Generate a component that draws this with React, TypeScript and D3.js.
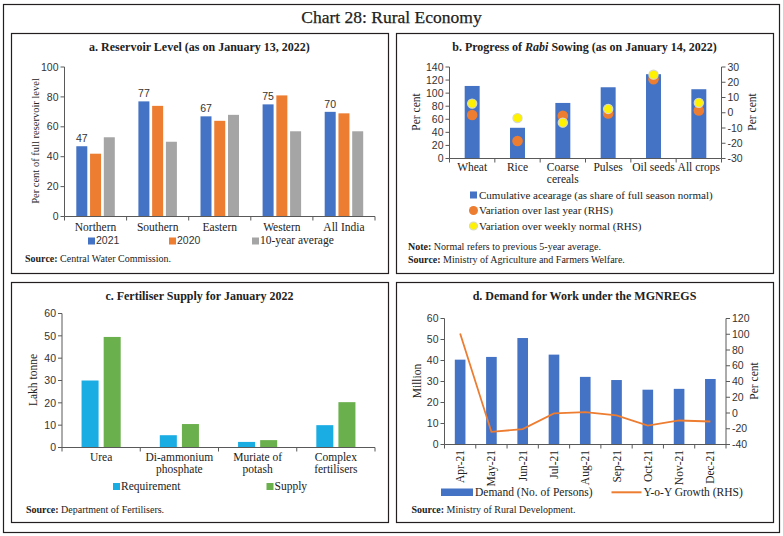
import React from "react";
import * as d3 from "d3";

const W = 783;
const H = 536;

// Panel a
const regions = ["Northern", "Southern", "Eastern", "Western", "All India"];
const resSeries = ["2021", "2020", "10-year average"];
const res2021 = [47, 77, 67, 75, 70];
const res2020 = [42, 74, 64, 81, 69];
const res10yr = [53, 50, 68, 57, 57];
const resTicks = [0, 20, 40, 60, 80, 100];

// Panel b
const crops = [["Wheat"], ["Rice"], ["Coarse", "cereals"], ["Pulses"], ["Oil seeds"], ["All crops"]];
const acreage = [111, 47, 85, 109, 129, 106];
const varLastYear = [-1.5, -18.5, -2, -0.5, 22, 1.5];
const varWeekly = [6, -3.5, -6.5, 2.5, 25, 6.5];
const sowLTicks = [0, 20, 40, 60, 80, 100, 120, 140];
const sowRTicks = [-30, -20, -10, 0, 10, 20, 30];

// Panel c
const fert = [["Urea"], ["Di-ammonium", "phosphate"], ["Muriate of", "potash"], ["Complex", "fertilisers"]];
const fertReq = [30, 5.5, 2.5, 10];
const fertSupply = [49.5, 10.5, 3.3, 20.3];
const fertTicks = [0, 10, 20, 30, 40, 50, 60];

// Panel d
const months = ["Apr-21", "May-21", "Jun-21", "Jul-21", "Aug-21", "Sep-21", "Oct-21", "Nov-21", "Dec-21"];
const demand = [40.4, 41.7, 50.7, 42.8, 32.2, 30.7, 26.1, 26.5, 31.2];
const yoy = [101, -24, -20.5, -0.5, 1.2, -3, -16, -9.5, -10.8];
const demLTicks = [0, 10, 20, 30, 40, 50, 60];
const demRTicks = [-40, -20, 0, 20, 40, 60, 80, 100, 120];

const BLUE = "#4472C4";
const ORANGE = "#ED7D31";
const GREY = "#A5A5A5";
const YELLOW = "#FFF200";
const CYAN = "#1AADE4";
const GREEN = "#6AB04C";
const AXIS = "#595959";
const SERIF = "'Liberation Serif', 'DejaVu Serif', serif";
const SANS = "'Liberation Sans', Arial, sans-serif";

function LeftAxis({ scale, ticks, x, fmt }: any) {
  const [r0, r1] = scale.range();
  return (
    <g>
      <line x1={x} x2={x} y1={r0} y2={r1} stroke={AXIS} />
      {ticks.map((t: number) => (
        <g key={t}>
          <line x1={x - 4} x2={x} y1={scale(t)} y2={scale(t)} stroke={AXIS} />
          <text x={x - 6} y={scale(t)} dy="0.35em" textAnchor="end" fontFamily={SANS} fontSize={10.5} fill="#333">
            {fmt ? fmt(t) : t}
          </text>
        </g>
      ))}
    </g>
  );
}

function RightAxis({ scale, ticks, x }: any) {
  const [r0, r1] = scale.range();
  return (
    <g>
      <line x1={x} x2={x} y1={r0} y2={r1} stroke={AXIS} />
      {ticks.map((t: number) => (
        <g key={t}>
          <line x1={x} x2={x + 4} y1={scale(t)} y2={scale(t)} stroke={AXIS} />
          <text x={x + 6} y={scale(t)} dy="0.35em" textAnchor="start" fontFamily={SANS} fontSize={10.5} fill="#333">
            {t}
          </text>
        </g>
      ))}
    </g>
  );
}

function BottomAxis({ band, y }: any) {
  const [r0, r1] = band.range();
  const step = band.step();
  const n = band.domain().length;
  const bounds = d3.range(n + 1).map((i) => r0 + i * step);
  return (
    <g>
      <line x1={r0} x2={r1} y1={y} y2={y} stroke={AXIS} />
      {bounds.map((b: number, i: number) => (
        <line key={i} x1={b} x2={b} y1={y} y2={y + 4} stroke={AXIS} />
      ))}
    </g>
  );
}

function YTitle({ x, y, text, size = 11.5 }: any) {
  return (
    <text transform={`translate(${x},${y}) rotate(-90)`} textAnchor="middle" dy="0.35em" fontFamily={SERIF} fontSize={size} fill="#222">
      {text}
    </text>
  );
}

function PanelTitle({ x, y, children }: any) {
  return (
    <text x={x} y={y} textAnchor="middle" fontFamily={SERIF} fontSize={12} fontWeight="bold" fill="#222">
      {children}
    </text>
  );
}

function Source({ x, y, label = "Source:", text }: any) {
  return (
    <text x={x} y={y} fontFamily={SERIF} fontSize={10} fill="#222">
      <tspan fontWeight="bold">{label}</tspan>
      <tspan> {text}</tspan>
    </text>
  );
}

function PanelA() {
  const y = d3.scaleLinear().domain([0, 100]).range([216.5, 67]);
  const x0 = d3.scaleBand().domain(regions).range([64.5, 375]).paddingInner(0.38).paddingOuter(0.19);
  const x1 = d3.scaleBand().domain(resSeries).range([0, x0.bandwidth()]).paddingInner(0.2);
  const data = [res2021, res2020, res10yr];
  const colors = [BLUE, ORANGE, GREY];
  return (
    <g>
      <PanelTitle x={199.5} y={51}>a. Reservoir Level (as on January 13, 2022)</PanelTitle>
      <YTitle x={35} y={141} text="Per cent of full reservoir level" size={10.5} />
      {regions.map((r, i) => (
        <g key={r}>
          {resSeries.map((s, j) => (
            <rect key={s} x={(x0(r) as number) + (x1(s) as number)} width={x1.bandwidth()} y={y(data[j][i])} height={y(0) - y(data[j][i])} fill={colors[j]} />
          ))}
          <text x={(x0(r) as number) + (x1("2021") as number) + x1.bandwidth() / 2} y={y(res2021[i]) - 4} textAnchor="middle" fontFamily={SANS} fontSize={10.5} fill="#333">
            {res2021[i]}
          </text>
          <text x={(x0(r) as number) + x0.bandwidth() / 2} y={231} textAnchor="middle" fontFamily={SERIF} fontSize={11.5} fill="#222">
            {r}
          </text>
        </g>
      ))}
      <LeftAxis scale={y} ticks={resTicks} x={64.5} />
      <BottomAxis band={x0} y={216.5} />
      {/* legend */}
      <rect x={88} y={237.5} width={7} height={7} fill={BLUE} />
      <text x={96} y={244} fontFamily={SANS} fontSize={10.5} fill="#333">2021</text>
      <rect x={169} y={237.5} width={7} height={7} fill={ORANGE} />
      <text x={177} y={244} fontFamily={SANS} fontSize={10.5} fill="#333">2020</text>
      <rect x={252} y={237.5} width={7} height={7} fill={GREY} />
      <text x={260} y={244} fontFamily={SERIF} fontSize={11.5} fill="#222">10-year average</text>
      <Source x={25} y={262} text="Central Water Commission." />
    </g>
  );
}

function PanelB() {
  const yL = d3.scaleLinear().domain([0, 140]).range([158.5, 67]);
  const yR = d3.scaleLinear().domain([-30, 30]).range([158.5, 67]);
  const names = crops.map((c) => c.join(" "));
  const x = d3.scaleBand().domain(names).range([449.5, 721.5]).paddingInner(0.67).paddingOuter(0.335);
  return (
    <g>
      <PanelTitle x={584.5} y={51}>
        b. Progress of <tspan fontStyle="italic">Rabi</tspan> Sowing (as on January 14, 2022)
      </PanelTitle>
      <YTitle x={416} y={112} text="Per cent" />
      <YTitle x={752} y={112} text="Per cent" />
      {names.map((n, i) => (
        <rect key={n} x={x(n)} width={x.bandwidth()} y={yL(acreage[i])} height={yL(0) - yL(acreage[i])} fill={BLUE} />
      ))}
      {names.map((n, i) => (
        <circle key={n} cx={(x(n) as number) + x.bandwidth() / 2} cy={yR(varLastYear[i])} r={5.3} fill={ORANGE} />
      ))}
      {names.map((n, i) => (
        <circle key={n} cx={(x(n) as number) + x.bandwidth() / 2} cy={yR(varWeekly[i])} r={4.6} fill={YELLOW} stroke="#d9d9c8" strokeWidth={1.2} />
      ))}
      <LeftAxis scale={yL} ticks={sowLTicks} x={449.5} />
      <RightAxis scale={yR} ticks={sowRTicks} x={721.5} />
      <BottomAxis band={x} y={158.5} />
      {crops.map((c, i) => (
        <text key={i} x={(x(names[i]) as number) + x.bandwidth() / 2} y={171} textAnchor="middle" fontFamily={SERIF} fontSize={11.5} fill="#222">
          {c.map((line, k) => (
            <tspan key={k} x={(x(names[i]) as number) + x.bandwidth() / 2} dy={k === 0 ? 0 : 12}>
              {line}
            </tspan>
          ))}
        </text>
      ))}
      {/* legend */}
      <rect x={470} y={191.5} width={7} height={7} fill={BLUE} />
      <text x={479} y={198.5} fontFamily={SERIF} fontSize={11} fill="#222">Cumulative acearage (as share of full season normal)</text>
      <circle cx={473.5} cy={210.5} r={4.5} fill={ORANGE} />
      <text x={479} y={214} fontFamily={SERIF} fontSize={11} fill="#222">Variation over last year (RHS)</text>
      <circle cx={473.5} cy={226} r={4} fill={YELLOW} stroke="#d9d9c8" strokeWidth={1.2} />
      <text x={479} y={229.5} fontFamily={SERIF} fontSize={11} fill="#222">Variation over weekly normal (RHS)</text>
      <Source x={408} y={250} label="Note:" text="Normal refers to previous 5-year average." />
      <Source x={408} y={263} text="Ministry of Agriculture and Farmers Welfare." />
    </g>
  );
}

function PanelC() {
  const y = d3.scaleLinear().domain([0, 60]).range([447.5, 313.5]);
  const names = fert.map((f) => f.join(" "));
  const x0 = d3.scaleBand().domain(names).range([62, 375]).paddingInner(0.5).paddingOuter(0.25);
  const x1 = d3.scaleBand().domain(["req", "sup"]).range([0, x0.bandwidth()]).paddingInner(0.23);
  return (
    <g>
      <PanelTitle x={199.5} y={300}>c. Fertiliser Supply for January 2022</PanelTitle>
      <YTitle x={33} y={380} text="Lakh tonne" />
      {names.map((n, i) => (
        <g key={n}>
          <rect x={(x0(n) as number) + (x1("req") as number)} width={x1.bandwidth()} y={y(fertReq[i])} height={y(0) - y(fertReq[i])} fill={CYAN} />
          <rect x={(x0(n) as number) + (x1("sup") as number)} width={x1.bandwidth()} y={y(fertSupply[i])} height={y(0) - y(fertSupply[i])} fill={GREEN} />
          <text x={(x0(n) as number) + x0.bandwidth() / 2} y={461} textAnchor="middle" fontFamily={SERIF} fontSize={11.5} fill="#222">
            {fert[i].map((line, k) => (
              <tspan key={k} x={(x0(n) as number) + x0.bandwidth() / 2} dy={k === 0 ? 0 : 12}>
                {line}
              </tspan>
            ))}
          </text>
        </g>
      ))}
      <LeftAxis scale={y} ticks={fertTicks} x={62} />
      <BottomAxis band={x0} y={447.5} />
      <rect x={113} y={483} width={7} height={7} fill={CYAN} />
      <text x={121} y={490} fontFamily={SERIF} fontSize={11.5} fill="#222">Requirement</text>
      <rect x={266.5} y={483} width={7} height={7} fill={GREEN} />
      <text x={274.5} y={490} fontFamily={SERIF} fontSize={11.5} fill="#222">Supply</text>
      <Source x={26} y={513} text="Department of Fertilisers." />
    </g>
  );
}

function PanelD() {
  const yL = d3.scaleLinear().domain([0, 60]).range([444.5, 318.5]);
  const yR = d3.scaleLinear().domain([-40, 120]).range([444.5, 318.5]);
  const x = d3.scaleBand().domain(months).range([444.5, 726]).paddingInner(0.66).paddingOuter(0.33);
  const line = d3
    .line<number>()
    .x((_, i) => (x(months[i]) as number) + x.bandwidth() / 2)
    .y((v) => yR(v));
  return (
    <g>
      <PanelTitle x={584.5} y={300}>d. Demand for Work under the MGNREGS</PanelTitle>
      <YTitle x={417} y={381} text="Million" />
      <YTitle x={754} y={381} text="Per cent" />
      {months.map((m, i) => (
        <rect key={m} x={x(m)} width={x.bandwidth()} y={yL(demand[i])} height={yL(0) - yL(demand[i])} fill={BLUE} />
      ))}
      <path d={line(yoy) as string} fill="none" stroke={ORANGE} strokeWidth={1.8} />
      <LeftAxis scale={yL} ticks={demLTicks} x={444.5} />
      <RightAxis scale={yR} ticks={demRTicks} x={726} />
      <BottomAxis band={x} y={444.5} />
      {months.map((m) => {
        const cx = (x(m) as number) + x.bandwidth() / 2;
        return (
          <text key={m} transform={`translate(${cx},${450}) rotate(-90)`} textAnchor="end" dy="0.35em" fontFamily={SERIF} fontSize={11.5} fill="#222">
            {m}
          </text>
        );
      })}
      <rect x={441} y={488.5} width={32} height={7.5} fill={BLUE} />
      <text x={475} y={496} fontFamily={SERIF} fontSize={11.5} fill="#222">Demand (No. of Persons)</text>
      <line x1={611.5} x2={641.5} y1={492.3} y2={492.3} stroke={ORANGE} strokeWidth={2} />
      <text x={643.5} y={496} fontFamily={SERIF} fontSize={11.5} fill="#222">Y-o-Y Growth (RHS)</text>
      <Source x={411.5} y={513} text="Ministry of Rural Development." />
    </g>
  );
}

export default function App() {
  return (
    <svg width={W} height={H} viewBox={`0 0 ${W} ${H}`} style={{ position: "absolute", left: 0, top: 0, background: "#fff" }}>
      <rect x={0} y={0} width={W} height={H} fill="#fff" />
      <rect x={3.5} y={4.5} width={776} height={528} fill="none" stroke="#231f20" strokeWidth={1.2} />
      <text x={391.5} y={23} textAnchor="middle" fontFamily={SERIF} fontSize={17.5} fill="#222" stroke="#222" strokeWidth={0.25}>
        Chart 28: Rural Economy
      </text>
      <rect x={11.5} y={33.5} width={377} height={240} fill="none" stroke="#231f20" strokeWidth={1.2} />
      <rect x={396.5} y={33.5} width={377} height={240} fill="none" stroke="#231f20" strokeWidth={1.2} />
      <rect x={11.5} y={282.5} width={377} height={240} fill="none" stroke="#231f20" strokeWidth={1.2} />
      <rect x={396.5} y={282.5} width={377} height={240} fill="none" stroke="#231f20" strokeWidth={1.2} />
      <PanelA />
      <PanelB />
      <PanelC />
      <PanelD />
    </svg>
  );
}
